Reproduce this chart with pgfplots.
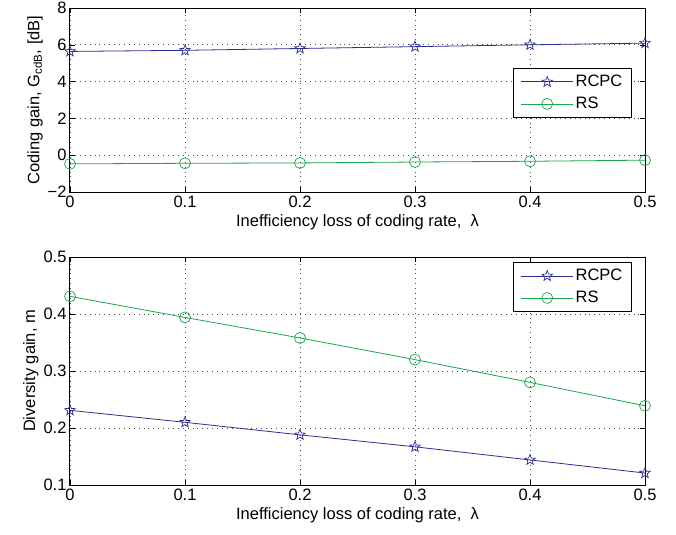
\documentclass[border=0pt]{standalone}
\usepackage{fontspec}
\setmainfont{Liberation Sans}
\usepackage{pgfplots}
\pgfplotsset{compat=1.18}
\usetikzlibrary{calc}
\definecolor{rcpcblue}{RGB}{45,45,150}
\definecolor{rsgreen}{RGB}{25,165,75}

% outline five-point star (MATLAB pentagram)
\pgfdeclareplotmark{pentagram}{%
  \pgfpathmoveto{\pgfpointpolar{90}{\pgfplotmarksize}}%
  \pgfpathlineto{\pgfpointpolar{126}{0.42\pgfplotmarksize}}%
  \pgfpathlineto{\pgfpointpolar{162}{\pgfplotmarksize}}%
  \pgfpathlineto{\pgfpointpolar{198}{0.42\pgfplotmarksize}}%
  \pgfpathlineto{\pgfpointpolar{234}{\pgfplotmarksize}}%
  \pgfpathlineto{\pgfpointpolar{270}{0.42\pgfplotmarksize}}%
  \pgfpathlineto{\pgfpointpolar{306}{\pgfplotmarksize}}%
  \pgfpathlineto{\pgfpointpolar{342}{0.42\pgfplotmarksize}}%
  \pgfpathlineto{\pgfpointpolar{18}{\pgfplotmarksize}}%
  \pgfpathlineto{\pgfpointpolar{54}{0.42\pgfplotmarksize}}%
  \pgfpathclose\pgfusepathqstroke}

\pgfplotsset{
  matlab/.style={
    scale only axis, width=575pt,
    xmin=0, xmax=0.5,
    xtick={0,0.1,0.2,0.3,0.4,0.5},
    xticklabels={0,0.1,0.2,0.3,0.4,0.5},
    grid=major, grid style={dash pattern=on 0.9pt off 4pt, black!70, line width=0.7pt},
    tick align=inside, major tick length=5pt,
    tick style={black, line width=0.6pt},
    axis line style={line width=1pt},
    tick label style={font=\fontsize{16.5}{18}\selectfont},
    label style={font=\fontsize{16.5}{18}\selectfont},
    xlabel={Inefficiency loss of coding rate,\ \ λ},
    xlabel style={yshift=0pt},
    ylabel style={yshift=-2pt},
    legend cell align=left,
    legend style={font=\fontsize{16.5}{18}\selectfont, draw=black, line width=0.8pt,
      fill=white, inner xsep=7pt, inner ysep=5pt, row sep=5pt},
    legend image code/.code={%
      \draw[mark repeat=2, mark phase=2] plot coordinates {(0pt,0pt) (26pt,0pt) (52pt,0pt)};},
  },
  rcpc/.style={color=rcpcblue, line width=0.8pt, mark=pentagram, mark size=5.5pt,
    mark options={line width=0.7pt}},
  rs/.style={color=rsgreen, line width=0.8pt, mark=o, mark size=5.5pt,
    mark options={line width=0.7pt}},
}

\begin{document}
\begin{tikzpicture}
\begin{axis}[matlab, name=top, height=184pt,
    ymin=-2, ymax=8,
    ytick={-2,0,2,4,6,8}, yticklabels={−2,0,2,4,6,8},
    ylabel={Coding gain, G\textsubscript{cdB}, [dB]},
    legend style={at={(0.977,0.674)}, anchor=north east}]
  \addplot[rcpc] coordinates {(0,5.64) (0.1,5.70) (0.2,5.80) (0.3,5.90) (0.4,6.00) (0.5,6.09)};
  \addlegendentry{RCPC}
  \addplot[rs] coordinates {(0,-0.47) (0.1,-0.44) (0.2,-0.42) (0.3,-0.37) (0.4,-0.33) (0.5,-0.27)};
  \addlegendentry{RS}
\end{axis}

\begin{axis}[matlab, name=bot, height=228pt,
    at={($(top.south west)+(0,-65pt)$)}, anchor=north west,
    ymin=0.1, ymax=0.5,
    ytick={0.1,0.2,0.3,0.4,0.5}, yticklabels={0.1,0.2,0.3,0.4,0.5},
    ylabel={Diversity gain, m},
    legend style={at={(0.977,0.978)}, anchor=north east}]
  \addplot[rcpc] coordinates {(0,0.231) (0.1,0.210) (0.2,0.188) (0.3,0.167) (0.4,0.144) (0.5,0.121)};
  \addlegendentry{RCPC}
  \addplot[rs] coordinates {(0,0.431) (0.1,0.394) (0.2,0.358) (0.3,0.320) (0.4,0.280) (0.5,0.239)};
  \addlegendentry{RS}
\end{axis}

\pgfresetboundingbox
\path[use as bounding box] ($(top.north west)+(-70pt,8pt)$) rectangle ($(bot.south west)+(606pt,-49pt)$);
\end{tikzpicture}
\end{document}
